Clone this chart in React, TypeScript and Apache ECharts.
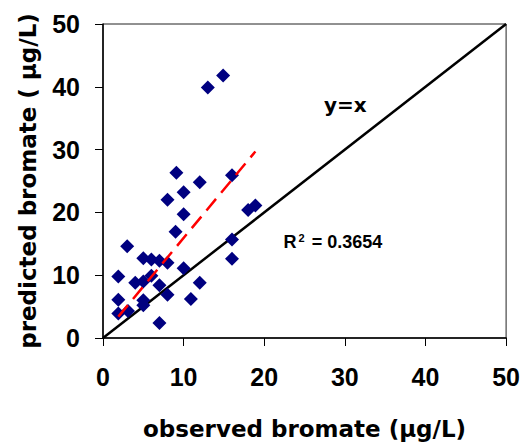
import React, { useEffect, useRef } from "react";
import * as echarts from "echarts";

const observed = [1.9, 3.1, 1.9, 1.9, 3.0, 4.0, 5.0, 6.0, 5.0, 5.0, 5.0, 6.0, 7.0, 8.0, 7.0, 7.0, 8.0, 10.0, 10.9, 12.0, 9.0, 8.0, 10.0, 10.0, 9.1, 12.0, 16.0, 16.0, 16.0, 18.0, 18.9, 13.0, 14.9];
const predicted = [3.9, 4.3, 6.1, 9.8, 14.6, 8.8, 9.0, 9.9, 6.0, 5.2, 12.7, 12.5, 12.3, 12.0, 8.4, 2.4, 6.9, 11.1, 6.2, 8.8, 16.9, 22.0, 19.7, 23.2, 26.3, 24.8, 25.9, 15.7, 12.6, 20.4, 21.1, 39.9, 41.8];
const fitX = [1.9, 18.9];
const fitY = [3.4, 29.7];
const identityX = [0, 50];
const identityY = [0, 50];
const axisTicks = [0, 10, 20, 30, 40, 50];

const xTitle = "observed bromate (\u03bcg/L)";
const yTitle = "predicted bromate ( \u03bcg/L)";
const lineLabel = "y=x";
const lineLabelPos = [27.4, 37.1];
const r2Pos = [22.4, 15.3];

export default function App() {
  const ref = useRef<HTMLDivElement>(null);
  useEffect(() => {
    if (!ref.current) return;
    const chart = echarts.init(ref.current, null, { renderer: "svg" });
    const tickFont = {
      fontFamily: "Liberation Sans",
      fontWeight: "bold" as const,
      fontSize: 25,
      color: "#000",
    };
    const titleFont = {
      fontFamily: "DejaVu Sans",
      fontWeight: "bold" as const,
      fontSize: 23,
      color: "#000",
    };
    chart.setOption({
      animation: false,
      backgroundColor: "#fff",
      grid: {
        left: 103,
        right: 15,
        top: 24,
        bottom: 110,
        show: true,
        borderColor: "#222",
        borderWidth: 1,
        backgroundColor: "transparent",
      },
      xAxis: {
        type: "value",
        min: axisTicks[0],
        max: axisTicks[axisTicks.length - 1],
        interval: 10,
        axisLine: { show: true, lineStyle: { color: "#000", width: 1.5 } },
        axisTick: { show: true, inside: false, length: 8, lineStyle: { color: "#000", width: 1 } },
        axisLabel: { ...tickFont, margin: 26 },
        splitLine: { show: false },
        name: xTitle,
        nameLocation: "middle",
        nameGap: 79,
        nameTextStyle: titleFont,
      },
      yAxis: {
        type: "value",
        min: axisTicks[0],
        max: axisTicks[axisTicks.length - 1],
        interval: 10,
        axisLine: { show: true, lineStyle: { color: "#000", width: 1.5 } },
        axisTick: { show: true, inside: false, length: 8, lineStyle: { color: "#000", width: 1 } },
        axisLabel: { ...tickFont, margin: 23 },
        splitLine: { show: false },
        name: yTitle,
        nameLocation: "middle",
        nameGap: 64,
        nameRotate: 90,
        nameTextStyle: titleFont,
      },
      series: [
        {
          type: "line",
          data: identityX.map((x, i) => [x, identityY[i]]),
          symbol: "none",
          lineStyle: { color: "#000", width: 2.5 },
          z: 1,
        },
        {
          type: "scatter",
          data: observed.map((x, i) => [x, predicted[i]]),
          symbol: "diamond",
          symbolSize: 14,
          itemStyle: { color: "#000080", opacity: 1 },
          z: 2,
        },
        {
          type: "line",
          data: fitX.map((x, i) => [x, fitY[i]]),
          symbol: "none",
          lineStyle: { color: "#ff0000", width: 2.5, type: [15, 8] },
          z: 3,
        },
      ],
    });
    const p1 = chart.convertToPixel({ gridIndex: 0 }, lineLabelPos) as number[];
    const p2 = chart.convertToPixel({ gridIndex: 0 }, r2Pos) as number[];
    chart.setOption({
      graphic: [
        {
          type: "text",
          x: p1[0],
          y: p1[1],
          style: {
            text: lineLabel,
            font: "bold 20px 'DejaVu Sans'",
            fill: "#000",
            verticalAlign: "middle",
          },
        },
        {
          type: "text",
          x: p2[0],
          y: p2[1],
          style: {
            text: "{r|R}{s|2}{r| = 0.3654}",
            verticalAlign: "middle",
            rich: {
              r: { fontFamily: "Liberation Sans", fontWeight: "bold", fontSize: 18, fill: "#000", color: "#000", verticalAlign: "bottom" },
              s: { fontFamily: "Liberation Sans", fontWeight: "bold", fontSize: 11, fill: "#000", color: "#000", verticalAlign: "top", padding: [0, 2, 6, 2] },
            },
          },
        },
      ],
    });
    return () => chart.dispose();
  }, []);
  return (
    <div
      ref={ref}
      style={{ position: "fixed", left: 0, top: 0, width: 523, height: 448 }}
    />
  );
}
